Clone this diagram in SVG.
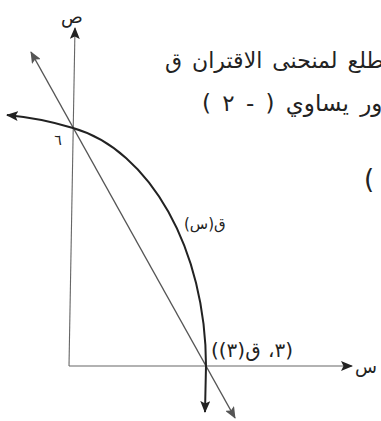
<svg xmlns="http://www.w3.org/2000/svg" width="381" height="421" viewBox="0 0 381 421">
  <style>
    .ar { font-family: "DejaVu Sans", "Noto Sans", sans-serif; fill: #222; }
    .axis { stroke: #666; stroke-width: 1.1; fill: none; }
    .curve { stroke: #222; stroke-width: 2; fill: none; }
    .line { stroke: #555; stroke-width: 1.4; fill: none; }
  </style>
  <defs>
    <marker id="ah" viewBox="0 0 12 10" refX="11" refY="5" markerWidth="12" markerHeight="10" markerUnits="userSpaceOnUse" orient="auto-start-reverse">
      <path d="M0,0 L12,5 L0,10 L2.5,5 Z" fill="#222"/>
    </marker>
    <marker id="ahg" viewBox="0 0 12 10" refX="11" refY="5" markerWidth="12" markerHeight="10" markerUnits="userSpaceOnUse" orient="auto-start-reverse">
      <path d="M0,0 L12,5 L0,10 L2.5,5 Z" fill="#555"/>
    </marker>
  </defs>
  <rect width="381" height="421" fill="#fff"/>

  <g id="text-lines">
    <text class="ar" x="165" y="68" font-size="22" word-spacing="3">&#x200F;طلع لمنحنى الاقتران ق&#x200F;</text>
    <text class="ar" x="202" y="111" font-size="23" word-spacing="4">&#x200F;ور يساوي ( - ٢ )&#x200F;</text>
    <text class="ar" x="364" y="188" font-size="26">(</text>
  </g>

  <g id="connectors">
    <path id="y-axis" class="axis" d="M69,366 L75,28" marker-end="url(#ah)"/>
    <path id="x-axis" class="axis" d="M69,366 L352,366" marker-end="url(#ah)"/>
    <path id="tangent" class="line" d="M31,52 L235,418" marker-start="url(#ahg)" marker-end="url(#ahg)"/>
    <path id="curve" class="curve" d="M7,115 Q40,118 73,128 C150,150 206,250 206,366 L205,412" marker-start="url(#ah)" marker-end="url(#ah)"/>
  </g>

  <g id="labels">
    <text class="ar" x="72" y="23" font-size="18" text-anchor="middle">ص</text>
    <text class="ar" x="366" y="373" font-size="18" text-anchor="middle">س</text>
    <text class="ar" x="58" y="145" font-size="14" text-anchor="middle">٦</text>
    <text class="ar" x="184" y="229" font-size="15">&#x200F;ق(س)&#x200F;</text>
    <text class="ar" x="211" y="357" font-size="20" word-spacing="1">&#x200F;(٣، ق(٣))&#x200F;</text>
  </g>
</svg>
